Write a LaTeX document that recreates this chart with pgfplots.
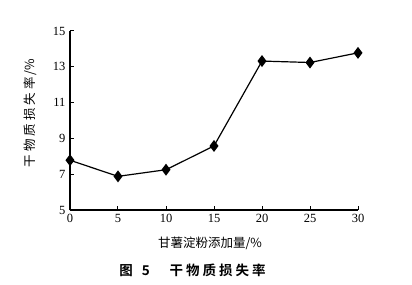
\documentclass[border=0pt]{standalone}
\usepackage{pgfplots}
\pgfplotsset{compat=1.18}
\usepackage{fontspec}
\setmainfont{Liberation Serif}
\newfontfamily\cjk{Noto Sans CJK SC}
\newfontfamily\cjkb{Noto Sans CJK SC Bold}
\begin{document}
\begin{tikzpicture}
\path[use as bounding box] (-70pt,-74pt) rectangle (342pt,210pt);
\begin{axis}[
  scale only axis, width=288pt, height=179pt,
  at={(0pt,0pt)}, anchor=south west,
  xmin=0, xmax=30, ymin=5, ymax=15,
  xtick={0,5,...,30}, ytick={5,7,...,15},
  axis lines=left, axis line style={-, line width=1.4pt},
  tick align=inside, major tick length=4pt,
  tick style={line width=1pt, black},
  ticklabel style={font=\fontsize{12.5}{13}\selectfont},
  /pgf/number format/assume math mode=true,
  xticklabel style={yshift=-1pt},
  yticklabel style={xshift=-1pt},
  clip=false,
]
\addplot[black, line width=1.2pt, mark=diamond*, mark size=5pt, mark options={solid, fill=black}]
 coordinates {(0,7.78) (5,6.88) (10,7.25) (15,8.58) (20,13.32) (25,13.24) (30,13.78)};
\end{axis}
\node[rotate=90, font=\cjk\fontsize{12.5}{14}\selectfont] at (-40pt,97pt) {干\hspace{3pt}物\hspace{3pt}质\hspace{3pt}损\hspace{3pt}失\hspace{3pt}率\hspace{2pt}/\%};
\node[font=\cjk\fontsize{12.5}{14}\selectfont] at (140pt,-33pt) {甘薯淀粉添加量/\%};
\node[font=\cjkb\fontsize{13.5}{16}\selectfont] at (122.5pt,-60pt) {图\hspace{9pt}5\hspace{20pt}干\hspace{3pt}物\hspace{3pt}质\hspace{3pt}损\hspace{3pt}失\hspace{3pt}率};
\end{tikzpicture}
\end{document}
